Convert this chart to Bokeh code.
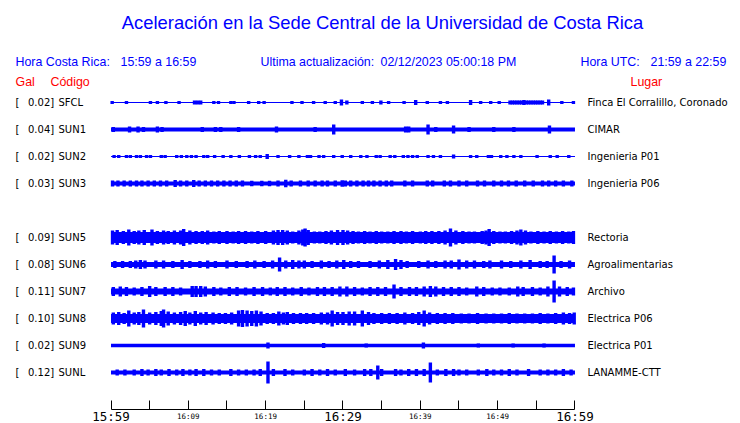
from bokeh.plotting import figure
from bokeh.models import Range1d, LinearAxis, FixedTicker, ColumnDataSource
from bokeh.core.properties import value
from bokeh.embed import file_html
from bokeh.resources import INLINE

# ---------------- texts ----------------
title_text = "Aceleración en la Sede Central de la Universidad de Costa Rica"
hora_cr_label = "Hora Costa Rica:"
hora_cr_range = "15:59 a 16:59"
update_label = "Ultima actualización:"
update_time = "02/12/2023 05:00:18 PM"
utc_label = "Hora UTC:"
utc_range = "21:59 a 22:59"
col_gal = "Gal"
col_code = "Código"
col_place = "Lugar"

# ---------------- stations ----------------
codes = ["SFCL", "SUN1", "SUN2", "SUN3", "SUN5", "SUN6", "SUN7", "SUN8", "SUN9", "SUNL"]
gal = ["0.02", "0.04", "0.02", "0.03", "0.09", "0.08", "0.11", "0.10", "0.02", "0.12"]
places = ["Finca El Corralillo, Coronado", "CIMAR", "Ingenieria P01", "Ingenieria P06",
          "Rectoria", "Agroalimentarias", "Archivo", "Electrica P06", "Electrica P01",
          "LANAMME-CTT"]
rows = [0, 1, 2, 3, 5, 6, 7, 8, 9, 10]

# time axis (minutes after 15:59)
trace_start, trace_end = 0, 60
tick_minutes = [0, 5, 10, 15, 20, 25, 30, 35, 40, 45, 50, 55, 60]
small_tick_labels = {10: "16:09", 20: "16:19", 40: "16:39", 50: "16:49"}
big_ticks = [0, 30, 60]
big_tick_labels = ["15:59", "16:29", "16:59"]

# trace envelopes: steady background half-amplitude, and bursts (minute, half-amplitude)
core_amp = [0.6, 2.0, 0.6, 2.0, 5.5, 2.5, 3.0, 4.5, 1.7, 2.0]

bursts_SFCL = [(0.15, 1.5), (2.0, 1.5), (5.1, 1.5), (6.0, 1.5), (7.1, 1.5), (8.8, 1.5), (10.8, 2), (11.2, 2),
               (11.6, 2), (13.3, 1.5), (13.9, 1.5), (15.5, 1.5), (15.9, 1.5), (17.8, 1.5), (19.1, 1.5),
               (19.8, 1.5), (23.4, 1.5), (24.7, 1.5), (26.2, 1.5), (27.7, 1.5), (29.0, 1.5), (29.8, 3),
               (30.5, 2), (32.5, 1.5), (33.8, 1.5), (34.9, 2), (35.9, 1.5), (37.9, 1.5), (39.4, 2.5),
               (40.9, 1.5), (42.6, 1.5), (43.5, 1.5), (46.5, 2.5), (47.8, 1.5), (49.1, 1.5), (50.2, 1.5),
               (51.6, 2), (51.9, 2), (52.2, 2), (52.5, 2), (52.8, 2), (53.1, 2), (53.4, 2.5), (53.7, 2),
               (54.0, 2), (54.3, 2), (54.6, 2), (54.9, 2), (55.2, 2), (55.5, 2), (55.8, 2), (56.6, 3),
               (58.3, 1.5), (59.8, 1.5)]
bursts_SUN1 = [(0.3, 2.5), (2.4, 3), (3.5, 3), (4.2, 2.5), (6.0, 3), (6.6, 2.5), (11.8, 2.5), (13.5, 2.5),
               (14.2, 2.5), (16.5, 2.5), (21.4, 3), (26.4, 2.5), (28.8, 5), (38.1, 3), (38.5, 3), (41.0, 5),
               (42.0, 2.5), (44.3, 4), (46.3, 2.5), (49.5, 2.5), (52.1, 2.5), (56.7, 4)]
bursts_SUN2 = [(0.4, 1.5), (1.0, 1.5), (2.0, 1.5), (2.5, 1.5), (3.3, 1.5), (3.8, 1.5), (4.6, 1.5), (5.1, 1.5),
               (6.5, 1.5), (7.0, 1.5), (8.5, 1.5), (9.1, 1.5), (9.8, 1.5), (10.4, 1.5), (11.0, 1.5),
               (12.0, 1.5), (12.5, 1.5), (13.4, 1.5), (14.5, 1.5), (15.5, 1.5), (16.6, 1.5), (17.9, 1.5),
               (18.7, 1.5), (19.3, 1.5), (20.2, 2.5), (21.6, 1.5), (23.1, 1.5), (24.3, 1.5), (25.4, 1.5),
               (25.8, 1.5), (26.9, 1.5), (27.5, 1.5), (28.8, 1.5), (29.9, 1.5), (31.0, 1.5), (32.3, 1.5),
               (33.1, 1.5), (34.3, 1.5), (34.8, 1.5), (36.1, 1.5), (36.7, 1.5), (37.8, 1.5), (38.4, 1.5),
               (39.0, 1.5), (39.6, 1.5), (41.0, 1.5), (41.7, 1.5), (42.6, 1.5), (44.3, 2), (46.5, 1.5),
               (47.3, 1.5), (48.8, 1.5), (49.2, 1.5), (50.4, 1.5), (51.2, 1.5), (52.1, 1.5), (53.0, 1.5),
               (55.1, 1.5), (56.8, 1.5), (57.7, 1.5), (59.2, 1.5)]
bursts_SUN3 = [(0.2, 3), (0.9, 3), (1.7, 3), (2.5, 3), (3.3, 3), (4.0, 3), (4.8, 3), (5.6, 3), (6.4, 3),
               (7.2, 3), (8.3, 3.5), (9.0, 3), (9.8, 3), (10.7, 3.5), (11.4, 3), (12.2, 3), (13.0, 3),
               (13.8, 3), (14.6, 3), (15.4, 3), (16.2, 3), (17.0, 3), (18.2, 2.8), (19.5, 2.8), (20.5, 2.8),
               (21.6, 3), (22.6, 3.8), (23.3, 3), (24.5, 3), (25.5, 3), (26.4, 3), (27.3, 3), (28.0, 3),
               (29.0, 3), (29.9, 3.2), (30.3, 3), (31.0, 3), (31.8, 3), (32.6, 3), (33.3, 3), (34.0, 3),
               (34.8, 3), (35.6, 3), (36.3, 3), (38.0, 3), (39.0, 3), (40.9, 3), (41.6, 3), (43.1, 3),
               (43.9, 3), (45.0, 3), (46.0, 3), (47.4, 3), (48.3, 3), (49.5, 3), (50.5, 3), (51.4, 3),
               (52.4, 3), (53.5, 3), (54.6, 3), (55.8, 3), (56.6, 3), (57.5, 3), (58.5, 3), (59.6, 3)]
bursts_SUN5 = [(0.2, 7), (0.8, 7.5), (1.6, 6.5), (2.3, 8), (3.0, 6.5), (3.6, 7), (4.3, 7.5), (5.3, 8), (6.0, 6.5),
               (6.8, 7), (7.4, 6.5), (8.2, 7), (9.0, 7), (9.4, 8.5), (10.2, 7), (11.0, 6.5), (11.8, 6.5),
               (12.5, 7), (13.3, 6), (14.0, 6.5), (15.0, 6.5), (15.8, 6), (16.5, 6.5), (17.4, 6.5), (18.2, 6),
               (19.0, 6.5), (20.0, 6.5), (21.0, 7), (21.6, 7.5), (22.2, 7.5), (22.8, 7), (23.5, 6), (24.3, 7),
               (24.8, 8), (25.1, 9), (25.5, 7.5), (26.3, 6), (27.0, 6), (27.8, 6.5), (28.5, 7), (29.3, 7.5),
               (30.0, 7.5), (30.6, 7), (31.3, 6.5), (32.0, 6), (32.8, 6.5), (33.5, 6), (34.3, 6.5), (35.0, 6),
               (35.8, 6), (36.6, 6.5), (37.5, 6.5), (38.2, 6), (39.0, 6.5), (40.0, 6), (40.7, 6.5),
               (41.5, 6.5), (42.4, 6.5), (43.2, 7), (43.9, 9), (44.6, 7), (45.5, 6.5), (46.3, 6), (47.0, 6),
               (48.0, 6.5), (48.5, 7), (48.9, 8.5), (49.5, 6.5), (50.3, 6), (51.0, 6), (51.8, 6.5), (52.5, 7),
               (53.0, 8), (53.6, 7), (54.3, 6), (55.2, 6.5), (56.0, 6), (56.8, 6.5), (57.6, 6), (58.4, 6.5),
               (59.2, 6), (59.8, 6.5)]
bursts_SUN6 = [(0.5, 3.5), (1.5, 3.5), (2.5, 3.5), (3.2, 4), (3.8, 4.5), (4.4, 4), (5.8, 4), (6.8, 4), (8.0, 3.5),
               (9.2, 4.5), (10.2, 3.5), (11.5, 3.5), (12.5, 4), (13.5, 3.5), (15.0, 4), (16.2, 3.5),
               (17.6, 3.5), (18.6, 4), (19.8, 3.5), (20.9, 4), (21.8, 7), (22.6, 4), (23.5, 4.5), (24.3, 4),
               (25.0, 4), (26.0, 3.5), (27.2, 4), (28.2, 3.5), (29.2, 4), (30.1, 4.5), (31.0, 3.5), (32.0, 3.5),
               (33.5, 3.5), (34.7, 4), (35.8, 4.5), (36.8, 5.5), (37.5, 4.5), (38.3, 3.5), (39.8, 3.5),
               (41.0, 4), (42.0, 3.5), (43.2, 4), (44.0, 4), (45.0, 5), (46.0, 4), (47.0, 4), (48.2, 3.5),
               (49.0, 4), (50.5, 4), (51.7, 3.5), (53.0, 4), (54.2, 4.5), (55.5, 3.5), (56.4, 3.5), (57.3, 9),
               (58.2, 3.5), (59.3, 4)]
bursts_SUN7 = [(0.3, 4.5), (1.2, 5), (2.0, 4.5), (3.0, 4), (4.0, 4.5), (5.0, 5.5), (5.8, 4.5), (7.0, 4.5),
               (8.0, 4.5), (9.0, 4), (10.5, 5.5), (11.0, 5.5), (11.6, 5.5), (12.2, 5), (13.3, 4.5), (14.2, 4),
               (15.3, 4.5), (16.3, 4.5), (17.4, 4), (18.5, 4.5), (19.6, 4.5), (20.6, 4), (21.5, 4.5),
               (22.5, 4.5), (23.5, 4), (24.6, 4.5), (25.6, 4), (26.7, 4.5), (27.6, 4.5), (28.6, 4.5),
               (29.6, 5), (30.5, 5), (31.5, 4.5), (32.5, 4), (33.5, 4.5), (34.5, 4.5), (35.5, 4.5), (36.6, 7),
               (37.5, 4.5), (38.6, 4.5), (39.5, 4.5), (40.5, 5), (41.3, 5.5), (42.0, 5), (43.0, 4.5),
               (44.0, 4.5), (45.0, 4.5), (46.0, 4), (47.3, 5), (48.2, 4.5), (49.3, 4), (50.3, 4), (51.5, 4),
               (52.6, 5), (53.3, 4.5), (54.5, 4.5), (55.5, 4), (56.5, 5), (57.3, 11), (58.0, 5), (59.0, 4.5),
               (59.8, 4)]
bursts_SUN8 = [(0.3, 6), (1.0, 6.5), (1.7, 5.5), (2.3, 8), (3.0, 6), (3.6, 6.5), (4.2, 9), (5.0, 6), (5.8, 6.5),
               (6.5, 7.5), (6.8, 9), (7.4, 7), (8.2, 6), (9.0, 6.5), (9.6, 7.5), (10.2, 6), (10.9, 7.5),
               (11.6, 6), (12.3, 6.5), (13.2, 6), (14.0, 5.5), (14.8, 5.5), (15.6, 6), (16.5, 8), (17.0, 8.5),
               (17.6, 8), (18.2, 7.5), (18.8, 8), (19.4, 7), (20.2, 5.5), (21.0, 5.5), (21.7, 7), (22.3, 6),
               (22.8, 6.5), (23.6, 5.5), (24.5, 5.5), (25.3, 5.5), (26.2, 5.5), (27.2, 6), (28.0, 6),
               (28.6, 8), (29.3, 6.5), (30.0, 6.5), (30.8, 7), (31.5, 7), (32.5, 8), (33.3, 6.5), (34.0, 5.5),
               (35.0, 5.5), (36.0, 5.5), (37.0, 5.5), (38.0, 6), (39.0, 5.5), (39.8, 6.5), (40.5, 8),
               (41.2, 6), (42.2, 5.5), (43.2, 5.5), (44.2, 5.5), (45.3, 5), (46.3, 5), (47.4, 5.5), (48.5, 5),
               (49.5, 5), (50.5, 5), (51.5, 5.5), (52.5, 5), (53.5, 5), (54.5, 5), (55.5, 5.5), (56.5, 5),
               (57.5, 5.5), (58.5, 6), (59.3, 5.5), (59.9, 6)]
bursts_SUN9 = [(20.3, 3), (27.5, 2.5), (33.0, 2), (40.4, 3), (47.5, 2), (52.0, 2), (56.0, 2)]
bursts_SUNL = [(0.8, 3), (1.8, 3), (3.0, 3), (4.0, 3.5), (4.8, 3), (5.8, 3.5), (6.5, 3), (7.5, 3.5), (8.5, 3),
               (9.3, 3.5), (10.2, 3), (11.0, 3.5), (12.0, 3.5), (13.0, 3), (14.0, 3), (15.5, 3.5), (16.5, 3),
               (17.5, 3), (18.5, 3), (19.3, 3.5), (20.3, 11), (21.0, 3.5), (22.5, 3.5), (23.5, 3), (25.0, 3),
               (26.0, 3.5), (27.0, 3), (28.0, 3.5), (29.0, 3), (30.3, 3.5), (31.5, 3), (32.8, 3.5),
               (33.6, 3.5), (34.5, 7), (35.0, 3.5), (36.8, 3.5), (37.5, 3), (38.5, 3.5), (39.5, 3.5),
               (40.5, 3.5), (41.3, 10), (42.2, 3), (43.3, 3.5), (44.3, 3.5), (45.0, 3), (46.0, 3), (47.5, 3),
               (48.6, 3.5), (49.5, 3), (50.5, 3), (51.5, 3.5), (52.5, 3), (54.0, 3.5), (55.5, 3), (56.5, 3),
               (57.5, 3), (58.5, 3.5), (59.5, 3)]

all_bursts = [bursts_SFCL, bursts_SUN1, bursts_SUN2, bursts_SUN3, bursts_SUN5,
              bursts_SUN6, bursts_SUN7, bursts_SUN8, bursts_SUN9, bursts_SUNL]

# ---------------- layout helpers (reference pixel -> data) ----------------
X0, PX_PER_MIN = 110.5, 7.733
Y0, ROW_PX = 102.0, 27.0
W, H = 740, 423


def tx(px):
    return (px - X0) / PX_PER_MIN


def ry(px):
    return (px - Y0) / ROW_PX


BLUE = "#0000ff"
RED = "#ff0000"

p = figure(width=W, height=H, output_backend="svg", toolbar_location=None,
           x_range=Range1d(tx(0), tx(W)), y_range=Range1d(ry(H), ry(0)),
           x_axis_type=None, y_axis_type=None, min_border=0,
           min_border_left=0, min_border_right=0, min_border_top=0, min_border_bottom=0)
p.outline_line_color = None
p.xgrid.visible = False
p.ygrid.visible = False
p.background_fill_color = "white"
p.border_fill_color = "white"

# ---------------- traces ----------------
half_w = 0.22
core = ColumnDataSource(dict(
    left=[trace_start] * len(rows), right=[trace_end] * len(rows),
    top=[r - a / ROW_PX for r, a in zip(rows, core_amp)],
    bottom=[r + a / ROW_PX for r, a in zip(rows, core_amp)]))
p.quad(left="left", right="right", top="top", bottom="bottom", source=core,
       fill_color=BLUE, line_color=None)

bl, br, bt, bb = [], [], [], []
for r, bursts in zip(rows, all_bursts):
    for t, a in bursts:
        bl.append(t - half_w)
        br.append(t + half_w)
        bt.append(r - a / ROW_PX)
        bb.append(r + a / ROW_PX)
p.quad(left=bl, right=br, top=bt, bottom=bb, fill_color=BLUE, line_color=None)


# ---------------- texts ----------------
def txt(xs, ys, texts, font, size, color, align="left", baseline="middle"):
    p.text(x=xs, y=ys, text=texts, text_font=value(font), text_font_size=size,
           text_color=color, text_align=align, text_baseline=baseline)


txt([tx(382)], [ry(22)], [title_text], "Liberation Sans", "18.4px", BLUE, align="center")
txt([tx(15), tx(120), tx(260), tx(380), tx(580), tx(650)], [ry(61)] * 6,
    [hora_cr_label, hora_cr_range, update_label, update_time, utc_label, utc_range],
    "Liberation Sans", "12.4px", BLUE)
txt([tx(15), tx(50)], [ry(81)] * 2, [col_gal, col_code], "Liberation Sans", "12.4px", RED)
txt([tx(630)], [ry(81)], [col_place], "Liberation Sans", "12.4px", RED)

txt([tx(15)] * len(rows), rows, ["["] * len(rows), "DejaVu Sans", "10px", "black")
txt([tx(27.5)] * len(rows), rows, [g + "]" for g in gal], "DejaVu Sans", "10px", "black")
txt([tx(58)] * len(rows), rows, codes, "DejaVu Sans", "10px", "black")
txt([tx(587)] * len(rows), rows, places, "DejaVu Sans", "10px", "black")

# ---------------- time axis ----------------
overrides = {t: small_tick_labels.get(t, "") for t in tick_minutes}
ax = LinearAxis(fixed_location=ry(409), ticker=FixedTicker(ticks=tick_minutes, minor_ticks=[]),
                major_label_overrides=overrides, bounds=(trace_start, trace_end))
ax.major_tick_in = 9
ax.major_tick_out = 0
ax.minor_tick_in = 0
ax.minor_tick_out = 0
ax.axis_line_color = "black"
ax.major_tick_line_color = "black"
ax.major_label_text_font = "DejaVu Sans Mono"
ax.major_label_text_font_size = "7.5px"
ax.major_label_text_color = "black"
ax.major_label_standoff = 2
p.add_layout(ax, "below")

txt(big_ticks, [ry(416)] * 3, big_tick_labels, "DejaVu Sans Mono", "12.5px", "black",
    align="center", baseline="middle")

open("out.html", "w").write(file_html(p, INLINE))
